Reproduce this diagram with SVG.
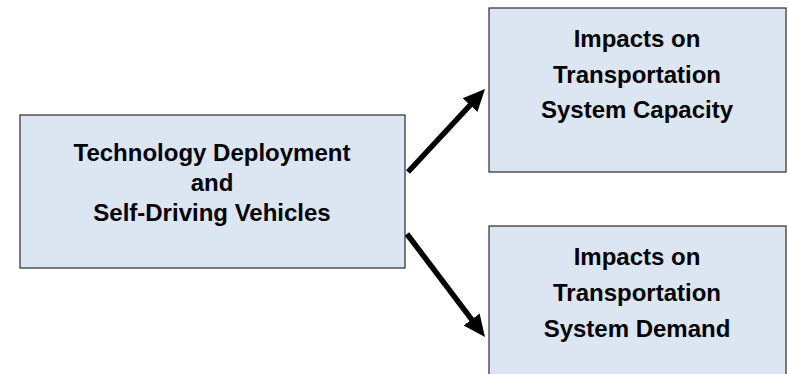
<svg xmlns="http://www.w3.org/2000/svg" width="788" height="374" viewBox="0 0 788 374">
<style>
.box{fill:#dce6f2;stroke:#2b2b2b;stroke-width:1.2}
.t{font-family:"Liberation Sans",Arial,sans-serif;font-weight:bold;font-size:24px;fill:#000;text-anchor:middle}
.c{stroke:#000;stroke-width:5.5;fill:none}
</style>
<defs>
<marker id="ah" markerUnits="userSpaceOnUse" markerWidth="24" markerHeight="24" viewBox="0 0 24 24" refX="8" refY="12" orient="auto">
<path d="M0,2 L22,12 L0,22 Z" fill="#000"/>
</marker>
</defs>
<rect width="788" height="374" fill="#fff"/>
<g id="node-tech">
<rect class="box" x="20" y="115" width="385" height="153"/>
<text class="t" x="212" y="161">Technology Deployment</text>
<text class="t" x="212" y="191">and</text>
<text class="t" x="212" y="221">Self-Driving Vehicles</text>
</g>
<g id="node-capacity">
<rect class="box" x="489" y="8" width="297" height="164"/>
<text class="t" x="637" y="47">Impacts on</text>
<text class="t" x="637" y="83">Transportation</text>
<text class="t" x="637" y="118">System Capacity</text>
</g>
<g id="node-demand">
<rect class="box" x="489" y="226" width="297" height="160"/>
<text class="t" x="637" y="265">Impacts on</text>
<text class="t" x="637" y="301">Transportation</text>
<text class="t" x="637" y="337">System Demand</text>
</g>
<g id="connectors">
<line class="c" x1="408" y1="172" x2="475.5" y2="99.3" marker-end="url(#ah)"/>
<line class="c" x1="407" y1="234" x2="476.5" y2="325.8" marker-end="url(#ah)"/>
</g>
</svg>
